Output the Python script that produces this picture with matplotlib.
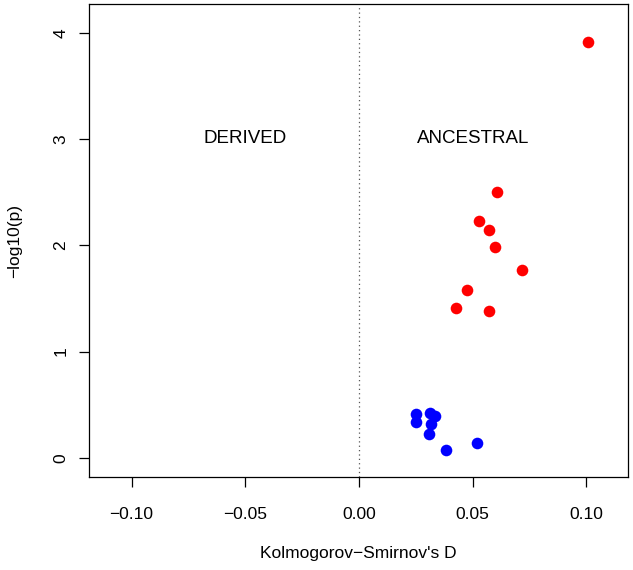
import matplotlib
matplotlib.use("Agg")
import matplotlib.pyplot as plt

plt.rcParams['font.family'] = ['Liberation Sans', 'DejaVu Sans']

red_x = [0.1007, 0.0607, 0.0528, 0.0572, 0.0598, 0.0717, 0.0475, 0.0427, 0.0572]
red_y = [3.915, 2.50, 2.23, 2.14, 1.98, 1.77, 1.58, 1.41, 1.38]
blue_x = [0.0251, 0.0251, 0.0312, 0.0334, 0.0317, 0.0308, 0.0383, 0.0519]
blue_y = [0.414, 0.339, 0.424, 0.395, 0.320, 0.226, 0.075, 0.141]
xticks = [-0.10, -0.05, 0.00, 0.05, 0.10]
xtick_labels = ["\u22120.10", "\u22120.05", "0.00", "0.05", "0.10"]
yticks = [0, 1, 2, 3, 4]

fig = plt.figure(figsize=(6.33, 5.70), dpi=100)
ax = fig.add_axes([89/633, 1-477/570, (628-89)/633, (477-4)/570])
ax.scatter(red_x, red_y, s=70, color='#ff0000', zorder=3, linewidths=0)
ax.scatter(blue_x, blue_y, s=70, color='#0000ff', zorder=3, linewidths=0)
ax.axvline(0, color='#555555', linestyle=(0, (1, 2.5)), linewidth=0.9)
ax.text(-0.05, 3, "DERIVED", ha='center', va='center', fontsize=13.5)
ax.text(0.05, 3, "ANCESTRAL", ha='center', va='center', fontsize=13.5)

ax.set_xlim(-0.1187, 0.1183)
ax.set_ylim(-0.18, 4.27)
ax.set_xticks(xticks)
ax.set_xticklabels(xtick_labels)
ax.set_yticks(yticks)
ax.set_yticklabels([str(v) for v in yticks], rotation=90, va='center')
ax.tick_params(direction='out', length=7, width=0.9, labelsize=12.5)
ax.tick_params(axis='x', pad=14.5)
ax.tick_params(axis='y', pad=8)
for sp in ax.spines.values():
    sp.set_linewidth(0.9)
ax.set_xlabel("Kolmogorov\u2212Smirnov's D", fontsize=12.5, labelpad=17.5)
ax.set_ylabel("\u2212log10(p)", fontsize=12.5, labelpad=22)

fig.savefig("out.png", dpi=100)
